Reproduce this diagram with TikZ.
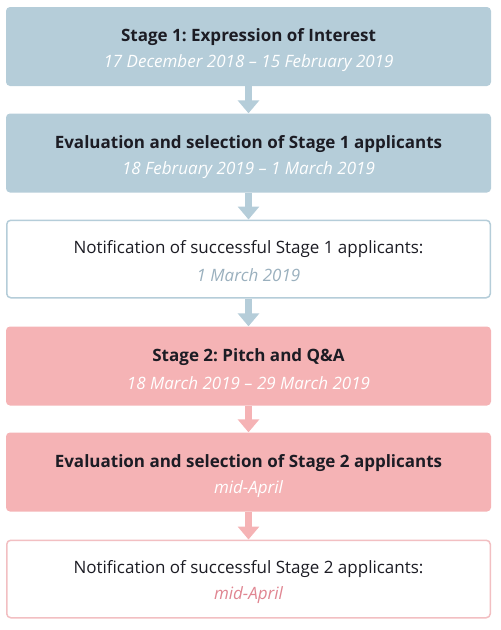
\documentclass[tikz,border=0pt]{standalone}
\usepackage{fontspec}
\setmainfont{Open Sans}
\usetikzlibrary{arrows.meta}
\frenchspacing
\definecolor{bluefill}{HTML}{B5CDD9}
\definecolor{pinkfill}{HTML}{F5B3B5}
\definecolor{pinkline}{HTML}{F2BFC2}
\definecolor{bluedate}{HTML}{9AB0BE}
\definecolor{pinkdate}{HTML}{E08591}
\definecolor{txt}{HTML}{1C1C24}
\tikzset{
  box/.style={rounded corners=4pt, minimum width=485pt, minimum height=79pt, inner sep=0pt},
  bluebox/.style={box, fill=bluefill},
  pinkbox/.style={box, fill=pinkfill},
  bluewhite/.style={box, fill=white, draw=bluefill, line width=1.5pt, minimum width=483.5pt, minimum height=77.5pt},
  pinkwhite/.style={box, fill=white, draw=pinkline, line width=1.5pt, minimum width=483.5pt, minimum height=77.5pt},
  ttl/.style={font=\fontsize{17}{20}\selectfont\bfseries\frenchspacing, text=txt},
  ntl/.style={font=\fontsize{17}{20}\selectfont\frenchspacing, text=txt},
  dte/.style={font=\fontsize{17}{20}\selectfont\itshape},
  flowarrow/.style={line width=7pt, -{Triangle[width=21pt,length=13pt]}},
}
\begin{document}
\begin{tikzpicture}[x=1pt,y=-1pt]
\useasboundingbox (0,0) rectangle (501,630);
\node[bluebox] (b1) at (248.5,46.5) {};
\node[bluebox] (b2) at (248.5,153) {};
\node[bluewhite] (b3) at (248.5,259) {};
\node[pinkbox] (b4) at (248.5,366) {};
\node[pinkbox] (b5) at (248.5,472) {};
\node[pinkwhite] (b6) at (248.5,579) {};

\node[ttl] (t1) at ([yshift=9pt]b1.center) {Stage 1: Expression of Interest};
\node[dte, text=white] (d1) at ([yshift=-17pt]b1.center) {17 December 2018 – 15 February 2019};
\node[ttl] (t2) at ([yshift=9pt]b2.center) {Evaluation and selection of Stage 1 applicants};
\node[dte, text=white] (d2) at ([yshift=-17pt]b2.center) {18 February 2019 – 1 March 2019};
\node[ntl] (t3) at ([yshift=10pt]b3.center) {Notification of successful Stage 1 applicants:};
\node[dte, text=bluedate] (d3) at ([yshift=-16pt]b3.center) {1 March 2019};
\node[ttl] (t4) at ([yshift=9pt]b4.center) {Stage 2: Pitch and Q\&A};
\node[dte, text=white] (d4) at ([yshift=-17pt]b4.center) {18 March 2019 – 29 March 2019};
\node[ttl] (t5) at ([yshift=9pt]b5.center) {Evaluation and selection of Stage 2 applicants};
\node[dte, text=white] (d5) at ([yshift=-17pt]b5.center) {mid-April};
\node[ntl] (t6) at ([yshift=10pt]b6.center) {Notification of successful Stage 2 applicants:};
\node[dte, text=pinkdate] (d6) at ([yshift=-16pt]b6.center) {mid-April};

\draw[flowarrow, draw=bluefill, fill=bluefill] (b1.south) -- (b2.north);
\draw[flowarrow, draw=bluefill, fill=bluefill] (b2.south) -- (b3.north);
\draw[flowarrow, draw=bluefill, fill=bluefill] (b3.south) -- (b4.north);
\draw[flowarrow, draw=pinkfill, fill=pinkfill] (b4.south) -- (b5.north);
\draw[flowarrow, draw=pinkfill, fill=pinkfill] (b5.south) -- (b6.north);
\end{tikzpicture}
\end{document}
